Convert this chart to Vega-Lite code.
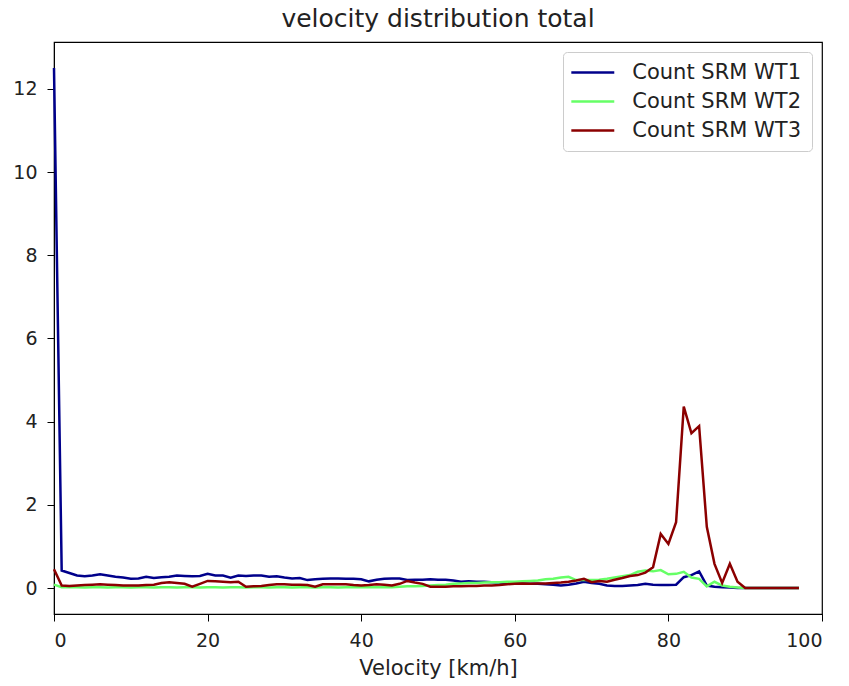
{
  "$schema": "https://vega.github.io/schema/vega-lite/v6.json",
  "width": 768,
  "height": 572,
  "autosize": {"type": "none"},
  "padding": {"left": 54, "top": 42, "right": 27, "bottom": 72},
  "config": {
    "font": "DejaVu Sans",
    "view": {"stroke": "#000000", "strokeWidth": 1.2},
    "axis": {
      "domainColor": "#000000",
      "tickColor": "#000000",
      "tickSize": 7,
      "labelPadding": 10,
      "labelFontSize": 19,
      "labelColor": "#222222",
      "titleFontSize": 21,
      "titleFontWeight": "normal",
      "titleColor": "#222222",
      "grid": false
    }
  },
  "title": {"text": "velocity distribution total", "fontSize": 25, "fontWeight": "normal", "color": "#222222", "offset": 10},
  "datasets": {
    "wide": [
      {"v":0,"a":12.5,"b":0.08,"r":0.45},{"v":1,"a":0.42,"b":0.02,"r":0.06},{"v":2,"a":0.36,"b":0.02,"r":0.05},{"v":3,"a":0.3,"b":0.02,"r":0.06},{"v":4,"a":0.28,"b":0.01,"r":0.07},{"v":5,"a":0.3,"b":0.02,"r":0.08},{"v":6,"a":0.33,"b":0.02,"r":0.09},{"v":7,"a":0.3,"b":0.01,"r":0.08},{"v":8,"a":0.27,"b":0.02,"r":0.07},{"v":9,"a":0.25,"b":0.02,"r":0.06},
      {"v":10,"a":0.22,"b":0.01,"r":0.06},{"v":11,"a":0.23,"b":0.02,"r":0.06},{"v":12,"a":0.27,"b":0.02,"r":0.07},{"v":13,"a":0.24,"b":0.01,"r":0.08},{"v":14,"a":0.26,"b":0.02,"r":0.12},{"v":15,"a":0.27,"b":0.02,"r":0.14},{"v":16,"a":0.3,"b":0.01,"r":0.12},{"v":17,"a":0.29,"b":0.02,"r":0.1},{"v":18,"a":0.28,"b":0.02,"r":0.03},{"v":19,"a":0.29,"b":0.01,"r":0.1},
      {"v":20,"a":0.34,"b":0.02,"r":0.17},{"v":21,"a":0.3,"b":0.02,"r":0.16},{"v":22,"a":0.3,"b":0.01,"r":0.15},{"v":23,"a":0.25,"b":0.02,"r":0.14},{"v":24,"a":0.3,"b":0.02,"r":0.15},{"v":25,"a":0.29,"b":0.01,"r":0.03},{"v":26,"a":0.3,"b":0.02,"r":0.04},{"v":27,"a":0.3,"b":0.02,"r":0.05},{"v":28,"a":0.27,"b":0.01,"r":0.07},{"v":29,"a":0.28,"b":0.02,"r":0.09},
      {"v":30,"a":0.25,"b":0.02,"r":0.09},{"v":31,"a":0.23,"b":0.01,"r":0.08},{"v":32,"a":0.24,"b":0.02,"r":0.08},{"v":33,"a":0.19,"b":0.02,"r":0.07},{"v":34,"a":0.21,"b":0.01,"r":0.03},{"v":35,"a":0.22,"b":0.02,"r":0.09},{"v":36,"a":0.23,"b":0.02,"r":0.09},{"v":37,"a":0.23,"b":0.01,"r":0.09},{"v":38,"a":0.22,"b":0.02,"r":0.09},{"v":39,"a":0.22,"b":0.02,"r":0.07},
      {"v":40,"a":0.21,"b":0.02,"r":0.06},{"v":41,"a":0.16,"b":0.02,"r":0.07},{"v":42,"a":0.2,"b":0.02,"r":0.09},{"v":43,"a":0.22,"b":0.02,"r":0.08},{"v":44,"a":0.23,"b":0.02,"r":0.06},{"v":45,"a":0.23,"b":0.03,"r":0.1},{"v":46,"a":0.19,"b":0.04,"r":0.17},{"v":47,"a":0.2,"b":0.04,"r":0.13},{"v":48,"a":0.2,"b":0.05,"r":0.1},{"v":49,"a":0.21,"b":0.06,"r":0.03},
      {"v":50,"a":0.2,"b":0.07,"r":0.03},{"v":51,"a":0.2,"b":0.08,"r":0.03},{"v":52,"a":0.18,"b":0.1,"r":0.04},{"v":53,"a":0.15,"b":0.11,"r":0.04},{"v":54,"a":0.16,"b":0.12,"r":0.05},{"v":55,"a":0.15,"b":0.12,"r":0.05},{"v":56,"a":0.15,"b":0.13,"r":0.06},{"v":57,"a":0.14,"b":0.14,"r":0.06},{"v":58,"a":0.13,"b":0.14,"r":0.07},{"v":59,"a":0.12,"b":0.15,"r":0.09},
      {"v":60,"a":0.11,"b":0.15,"r":0.1},{"v":61,"a":0.11,"b":0.16,"r":0.11},{"v":62,"a":0.1,"b":0.17,"r":0.1},{"v":63,"a":0.1,"b":0.18,"r":0.11},{"v":64,"a":0.09,"b":0.21,"r":0.11},{"v":65,"a":0.08,"b":0.22,"r":0.12},{"v":66,"a":0.06,"b":0.25,"r":0.13},{"v":67,"a":0.08,"b":0.27,"r":0.15},{"v":68,"a":0.11,"b":0.19,"r":0.18},{"v":69,"a":0.15,"b":0.19,"r":0.22},
      {"v":70,"a":0.12,"b":0.19,"r":0.14},{"v":71,"a":0.1,"b":0.2,"r":0.17},{"v":72,"a":0.06,"b":0.22,"r":0.15},{"v":73,"a":0.05,"b":0.25,"r":0.2},{"v":74,"a":0.05,"b":0.28,"r":0.24},{"v":75,"a":0.06,"b":0.31,"r":0.29},{"v":76,"a":0.07,"b":0.39,"r":0.31},{"v":77,"a":0.1,"b":0.42,"r":0.37},{"v":78,"a":0.08,"b":0.4,"r":0.5},{"v":79,"a":0.07,"b":0.43,"r":1.3},
      {"v":80,"a":0.07,"b":0.33,"r":1.06},{"v":81,"a":0.08,"b":0.34,"r":1.58},{"v":82,"a":0.26,"b":0.39,"r":4.36},{"v":83,"a":0.31,"b":0.25,"r":3.72},{"v":84,"a":0.4,"b":0.22,"r":3.89},{"v":85,"a":0.06,"b":0.04,"r":1.47},{"v":86,"a":0.03,"b":0.15,"r":0.58},{"v":87,"a":0.02,"b":0.06,"r":0.12},{"v":88,"a":0.01,"b":0.03,"r":0.58},{"v":89,"a":0,"b":0.01,"r":0.15},
      {"v":90,"a":0,"b":0,"r":0},{"v":91,"a":0,"b":0,"r":0},{"v":92,"a":0,"b":0,"r":0},{"v":93,"a":0,"b":0,"r":0},{"v":94,"a":0,"b":0,"r":0},{"v":95,"a":0,"b":0,"r":0},{"v":96,"a":0,"b":0,"r":0},{"v":97,"a":0,"b":0,"r":0}
    ]
  },
  "data": {"name": "wide"},
  "transform": [
    {"fold": ["a", "b", "r"], "as": ["key", "c"]},
    {"lookup": "key", "from": {"data": {"values": [{"key": "a", "s": "Count SRM WT1"}, {"key": "b", "s": "Count SRM WT2"}, {"key": "r", "s": "Count SRM WT3"}]}, "key": "key", "fields": ["s"]}}
  ],
  "mark": {"type": "line", "strokeWidth": 2.5},
  "encoding": {
    "x": {
      "field": "v", "type": "quantitative",
      "scale": {"domain": [0, 100], "nice": false, "zero": false},
      "axis": {"values": [0, 20, 40, 60, 80, 100], "title": "Velocity [km/h]", "titlePadding": 7}
    },
    "y": {
      "field": "c", "type": "quantitative",
      "scale": {"domain": [-0.625, 13.125], "nice": false, "zero": false},
      "axis": {"values": [0, 2, 4, 6, 8, 10, 12], "title": null}
    },
    "color": {
      "field": "s", "type": "nominal",
      "scale": {"domain": ["Count SRM WT1", "Count SRM WT2", "Count SRM WT3"], "range": ["#00008b", "#66ff66", "#8b0000"]},
      "legend": {
        "title": null,
        "orient": "top-right",
        "offset": 10,
        "padding": 10,
        "symbolType": "M-3,0H3",
        "symbolSize": 205,
        "symbolOffset": 9.3,
        "symbolStrokeWidth": 2.5,
        "labelFontSize": 21,
        "labelLimit": 400,
        "labelColor": "#222222",
        "labelOffset": 29,
        "rowPadding": 7,
        "strokeColor": "#cccccc",
        "fillColor": "#ffffff",
        "cornerRadius": 4
      }
    }
  }
}
